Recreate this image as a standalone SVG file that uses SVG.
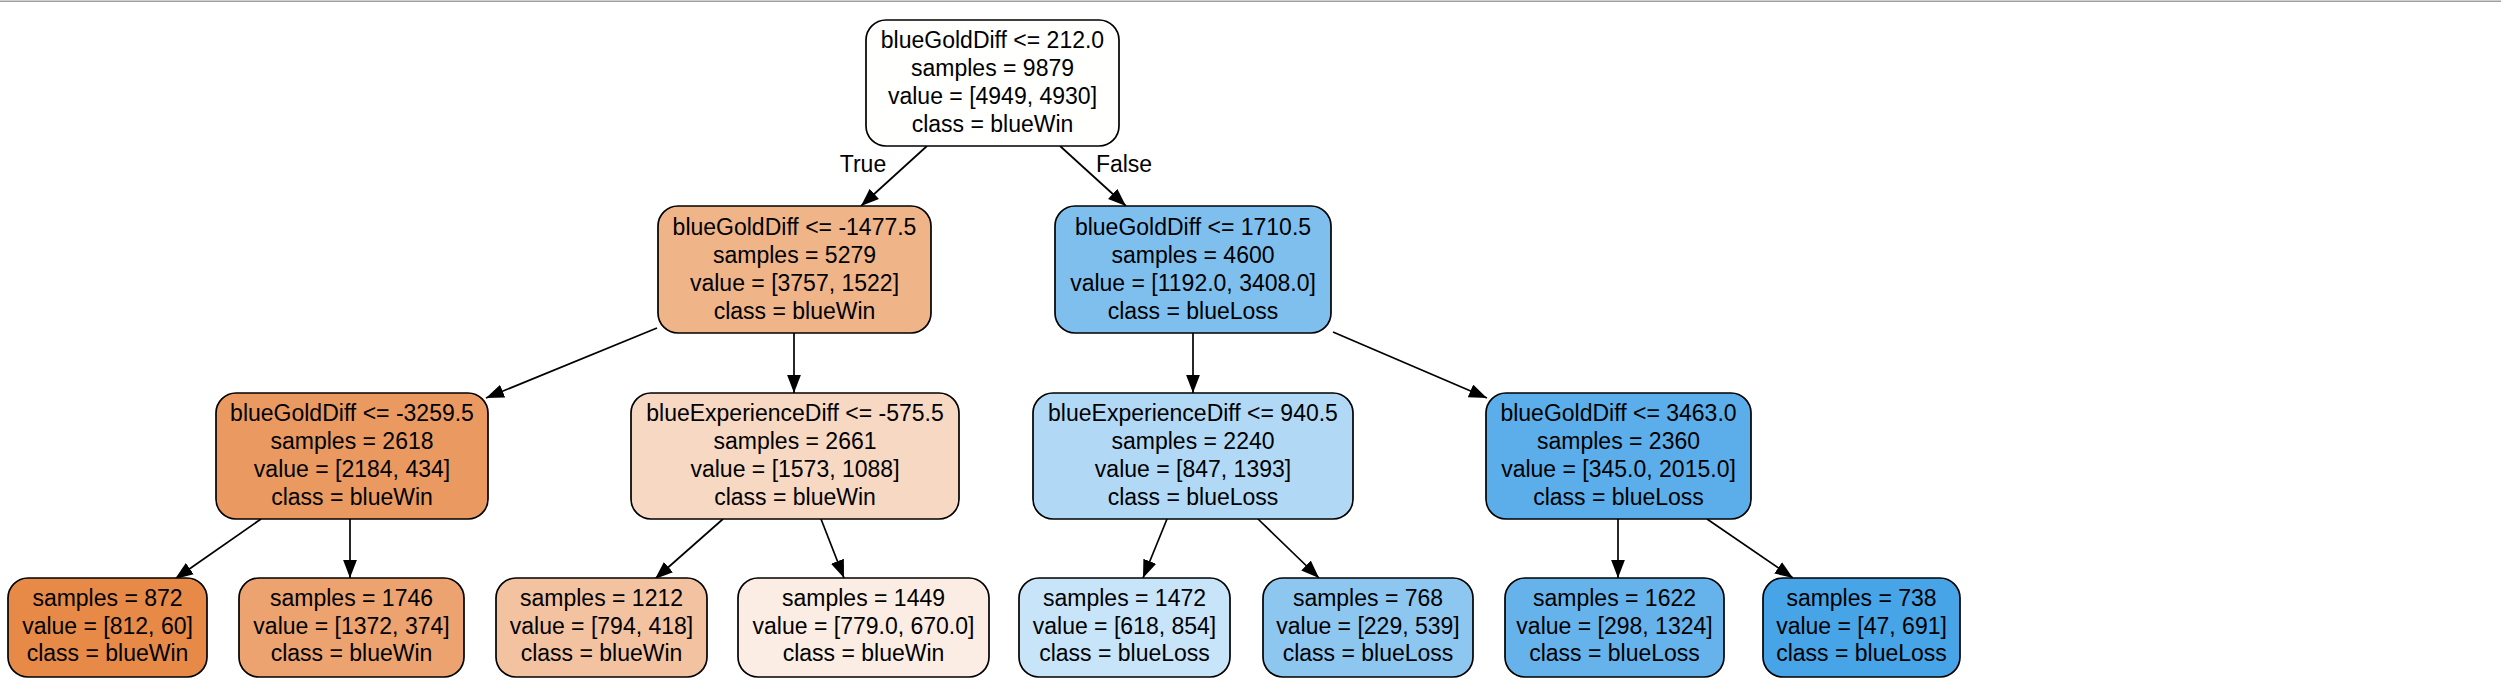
<svg xmlns="http://www.w3.org/2000/svg" width="2501" height="682" viewBox="0 0 2501 682">
<style>
.n{stroke:#000;stroke-width:1.7}
text{font-family:"Liberation Sans",Arial,Helvetica,sans-serif;font-size:23px;fill:#000;text-anchor:middle}
.e{stroke:#000;stroke-width:1.7;fill:none;marker-end:url(#ah)}
</style>
<defs>
<marker id="ah" markerUnits="userSpaceOnUse" markerWidth="18" markerHeight="14" viewBox="0 0 17 13" refX="17" refY="6.5" orient="auto">
<path d="M0,0 L17,6.5 L0,13 Z" fill="#000"/>
</marker>
</defs>
<rect width="2501" height="682" fill="#fff"/>
<line x1="0" y1="1.2" x2="2501" y2="1.2" stroke="#a0a0a0" stroke-width="1.6"/>
<g id="connectors">
<line class="e" x1="927" y1="146" x2="861" y2="206"/>
<line class="e" x1="1060" y1="146" x2="1126" y2="206"/>
<line class="e" x1="657" y1="328" x2="486" y2="398"/>
<line class="e" x1="794" y1="333" x2="794" y2="393"/>
<line class="e" x1="1193" y1="333" x2="1193" y2="393"/>
<line class="e" x1="1333" y1="332" x2="1487" y2="398"/>
<line class="e" x1="261" y1="519" x2="175" y2="579"/>
<line class="e" x1="350" y1="519" x2="350" y2="578"/>
<line class="e" x1="723" y1="519" x2="655" y2="579"/>
<line class="e" x1="821" y1="519" x2="844" y2="578"/>
<line class="e" x1="1167" y1="519" x2="1143" y2="578"/>
<line class="e" x1="1258" y1="519" x2="1319" y2="578"/>
<line class="e" x1="1618" y1="519" x2="1618" y2="578"/>
<line class="e" x1="1707" y1="519" x2="1793" y2="578"/>
<text x="863" y="172">True</text>
<text x="1124" y="172">False</text>
</g>
<g id="node0">
<rect class="n" x="866" y="20" width="253" height="126" rx="20" fill="#fffffe"/>
<text x="992.5" y="48">blueGoldDiff &lt;= 212.0</text>
<text x="992.5" y="76">samples = 9879</text>
<text x="992.5" y="104">value = [4949, 4930]</text>
<text x="992.5" y="132">class = blueWin</text>
</g>
<g id="node1">
<rect class="n" x="658" y="206" width="273" height="127" rx="20" fill="#f0b489"/>
<text x="794.5" y="234.5">blueGoldDiff &lt;= -1477.5</text>
<text x="794.5" y="262.5">samples = 5279</text>
<text x="794.5" y="290.5">value = [3757, 1522]</text>
<text x="794.5" y="318.5">class = blueWin</text>
</g>
<g id="node8">
<rect class="n" x="1055" y="206" width="276" height="127" rx="20" fill="#7ebfee"/>
<text x="1193" y="234.5">blueGoldDiff &lt;= 1710.5</text>
<text x="1193" y="262.5">samples = 4600</text>
<text x="1193" y="290.5">value = [1192.0, 3408.0]</text>
<text x="1193" y="318.5">class = blueLoss</text>
</g>
<g id="node2">
<rect class="n" x="216" y="393" width="272" height="126" rx="20" fill="#ea9a60"/>
<text x="352" y="421">blueGoldDiff &lt;= -3259.5</text>
<text x="352" y="449">samples = 2618</text>
<text x="352" y="477">value = [2184, 434]</text>
<text x="352" y="505">class = blueWin</text>
</g>
<g id="node5">
<rect class="n" x="631" y="393" width="328" height="126" rx="20" fill="#f7d8c2"/>
<text x="795" y="421">blueExperienceDiff &lt;= -575.5</text>
<text x="795" y="449">samples = 2661</text>
<text x="795" y="477">value = [1573, 1088]</text>
<text x="795" y="505">class = blueWin</text>
</g>
<g id="node9">
<rect class="n" x="1033" y="393" width="320" height="126" rx="20" fill="#b1d9f5"/>
<text x="1193" y="421">blueExperienceDiff &lt;= 940.5</text>
<text x="1193" y="449">samples = 2240</text>
<text x="1193" y="477">value = [847, 1393]</text>
<text x="1193" y="505">class = blueLoss</text>
</g>
<g id="node12">
<rect class="n" x="1486" y="393" width="265" height="126" rx="20" fill="#5baee9"/>
<text x="1618.5" y="421">blueGoldDiff &lt;= 3463.0</text>
<text x="1618.5" y="449">samples = 2360</text>
<text x="1618.5" y="477">value = [345.0, 2015.0]</text>
<text x="1618.5" y="505">class = blueLoss</text>
</g>
<g id="node3">
<rect class="n" x="8" y="578" width="199" height="99" rx="20" fill="#e78a48"/>
<text x="107.5" y="606">samples = 872</text>
<text x="107.5" y="633.5">value = [812, 60]</text>
<text x="107.5" y="661">class = blueWin</text>
</g>
<g id="node4">
<rect class="n" x="239" y="578" width="225" height="99" rx="20" fill="#eca36f"/>
<text x="351.5" y="606">samples = 1746</text>
<text x="351.5" y="633.5">value = [1372, 374]</text>
<text x="351.5" y="661">class = blueWin</text>
</g>
<g id="node6">
<rect class="n" x="496" y="578" width="211" height="99" rx="20" fill="#f3c3a1"/>
<text x="601.5" y="606">samples = 1212</text>
<text x="601.5" y="633.5">value = [794, 418]</text>
<text x="601.5" y="661">class = blueWin</text>
</g>
<g id="node7">
<rect class="n" x="738" y="578" width="251" height="99" rx="20" fill="#fbede3"/>
<text x="863.5" y="606">samples = 1449</text>
<text x="863.5" y="633.5">value = [779.0, 670.0]</text>
<text x="863.5" y="661">class = blueWin</text>
</g>
<g id="node10">
<rect class="n" x="1019" y="578" width="211" height="99" rx="20" fill="#c8e4f8"/>
<text x="1124.5" y="606">samples = 1472</text>
<text x="1124.5" y="633.5">value = [618, 854]</text>
<text x="1124.5" y="661">class = blueLoss</text>
</g>
<g id="node11">
<rect class="n" x="1263" y="578" width="210" height="99" rx="20" fill="#8dc7f0"/>
<text x="1368" y="606">samples = 768</text>
<text x="1368" y="633.5">value = [229, 539]</text>
<text x="1368" y="661">class = blueLoss</text>
</g>
<g id="node13">
<rect class="n" x="1505" y="578" width="219" height="99" rx="20" fill="#66b3eb"/>
<text x="1614.5" y="606">samples = 1622</text>
<text x="1614.5" y="633.5">value = [298, 1324]</text>
<text x="1614.5" y="661">class = blueLoss</text>
</g>
<g id="node14">
<rect class="n" x="1763" y="578" width="197" height="99" rx="20" fill="#47a4e7"/>
<text x="1861.5" y="606">samples = 738</text>
<text x="1861.5" y="633.5">value = [47, 691]</text>
<text x="1861.5" y="661">class = blueLoss</text>
</g>
</svg>
